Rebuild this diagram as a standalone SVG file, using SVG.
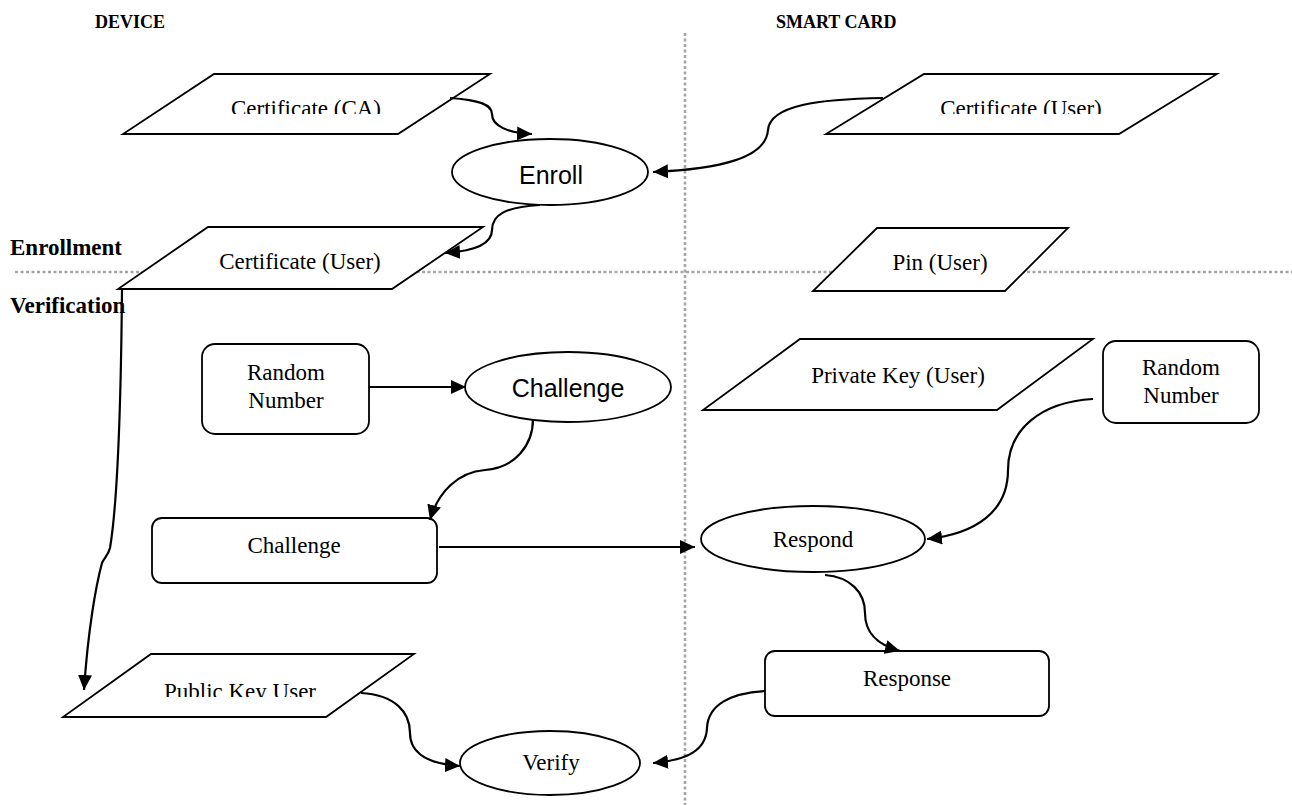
<svg xmlns="http://www.w3.org/2000/svg" width="1292" height="805" viewBox="0 0 1292 805">
<style>
.shape{fill:#fff;stroke:#000;stroke-width:1.8}
.conn{fill:none;stroke:#000;stroke-width:2.2}
.serif{font-family:"Liberation Serif","Times New Roman",serif;font-size:23px;fill:#000;text-anchor:middle}
.sans{font-family:"Liberation Sans",Arial,sans-serif;font-size:25px;fill:#000;text-anchor:middle}
.hdr{font-family:"Liberation Serif","Times New Roman",serif;font-size:23px;font-weight:bold;fill:#000}
.top{font-size:18px}
.div{stroke:#a6a6a6;stroke-width:2.6;stroke-dasharray:3 2.5;fill:none}
</style>
<defs>
<marker id="ah" markerUnits="userSpaceOnUse" markerWidth="16" markerHeight="14" refX="15" refY="7" orient="auto">
<path d="M0,0 L15,7 L0,14 z" fill="#000"/>
</marker>
<clipPath id="c1"><rect x="0" y="0" width="1292" height="114"/></clipPath>
<clipPath id="c2"><rect x="0" y="600" width="1292" height="97"/></clipPath>
</defs>
<rect width="1292" height="805" fill="#fff"/>

<g id="labels">
<text class="hdr top" x="95" y="28">DEVICE</text>
<text class="hdr top" x="776" y="28">SMART CARD</text>
<text class="hdr" x="10" y="255">Enrollment</text>
<text class="hdr" x="10" y="313">Verification</text>
</g>

<g id="dividers">
<line class="div" x1="685" y1="33" x2="685" y2="805"/>
<line class="div" x1="15" y1="272" x2="1292" y2="272"/>
</g>

<g id="cert-ca">
<polygon class="shape" points="214,74 490,74 398,134 123,134"/>
<text class="serif" x="306" y="116" clip-path="url(#c1)">Certificate (CA)</text>
</g>

<g id="cert-user-card">
<polygon class="shape" points="924,74 1217,74 1119,134 826,134"/>
<text class="serif" x="1021" y="116" clip-path="url(#c1)">Certificate (User)</text>
</g>

<g id="enroll">
<ellipse class="shape" cx="550" cy="172" rx="98" ry="33"/>
<text class="sans" x="551" y="184">Enroll</text>
</g>

<g id="cert-user-device">
<polygon class="shape" points="208,227 483,227 392,289 118,289"/>
<text class="serif" x="300" y="269">Certificate (User)</text>
</g>

<g id="pin-user">
<polygon class="shape" points="877,228 1068,228 1005,291 813,291"/>
<text class="serif" x="940" y="270">Pin (User)</text>
</g>

<g id="random-number-device">
<rect class="shape" x="202" y="344" width="167" height="90" rx="13"/>
<text class="serif" x="286" y="380">Random</text>
<text class="serif" x="286" y="408">Number</text>
</g>

<g id="challenge-process">
<ellipse class="shape" cx="568" cy="387" rx="103" ry="35"/>
<text class="sans" x="568" y="397">Challenge</text>
</g>

<g id="challenge-data">
<rect class="shape" x="152" y="518" width="285" height="65" rx="10"/>
<text class="serif" x="294" y="553">Challenge</text>
</g>

<g id="private-key">
<polygon class="shape" points="800,339 1093,339 997,410 703,410"/>
<text class="serif" x="898" y="383">Private Key (User)</text>
</g>

<g id="random-number-card">
<rect class="shape" x="1103" y="341" width="156" height="82" rx="13"/>
<text class="serif" x="1181" y="375">Random</text>
<text class="serif" x="1181" y="403">Number</text>
</g>

<g id="respond">
<ellipse class="shape" cx="813" cy="539" rx="112" ry="33"/>
<text class="serif" x="813" y="547">Respond</text>
</g>

<g id="response">
<rect class="shape" x="765" y="651" width="284" height="65" rx="10"/>
<text class="serif" x="907" y="686">Response</text>
</g>

<g id="public-key">
<polygon class="shape" points="151,654 414,654 326,717 63,717"/>
<text class="serif" x="240" y="699" clip-path="url(#c2)">Public Key User</text>
</g>

<g id="verify">
<ellipse class="shape" cx="550" cy="763" rx="90" ry="32"/>
<text class="serif" x="551" y="770">Verify</text>
</g>

<g id="connectors">
<path class="conn" marker-end="url(#ah)" d="M450,98 C480,100 492,105 492,114 C492,126 508,133 532,134"/>
<path class="conn" marker-end="url(#ah)" d="M883,98 C820,99 770,105 768,130 C766,158 720,169 653,172"/>
<path class="conn" marker-end="url(#ah)" d="M540,205 C505,207 492,215 492,230 C492,244 476,251 445,253"/>
<path class="conn" marker-end="url(#ah)" d="M122,290 C121,400 118,500 110,548 C108,556 104,558 102,563 C96,585 88,630 84,690"/>
<path class="conn" marker-end="url(#ah)" d="M369,387 L466,387"/>
<path class="conn" marker-end="url(#ah)" d="M533,419 C533,445 515,468 485,470 C458,472 438,492 430,520"/>
<path class="conn" marker-end="url(#ah)" d="M439,547 L695,547"/>
<path class="conn" marker-end="url(#ah)" d="M1093,399 C1040,402 1008,430 1008,470 C1008,512 975,534 927,539"/>
<path class="conn" marker-end="url(#ah)" d="M825,575 C850,577 865,592 865,613 C865,634 878,645 900,651"/>
<path class="conn" marker-end="url(#ah)" d="M765,691 C730,693 708,705 707,728 C706,750 688,760 653,763"/>
<path class="conn" marker-end="url(#ah)" d="M361,693 C395,695 410,712 410,733 C410,753 428,764 460,766"/>
</g>
</svg>
